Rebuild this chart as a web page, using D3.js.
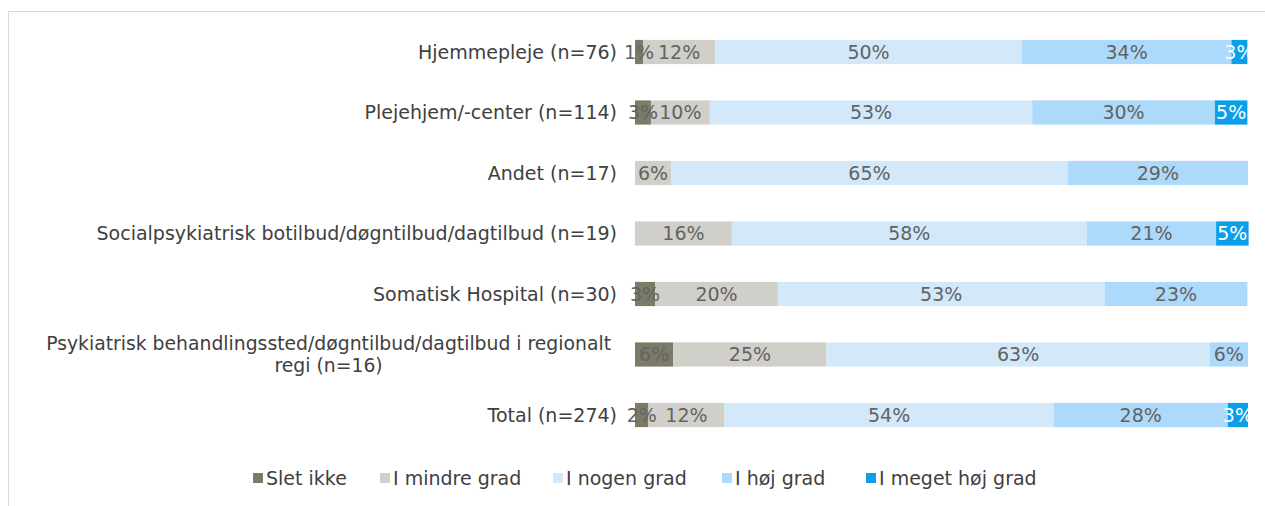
<!DOCTYPE html>
<html>
<head>
<meta charset="utf-8">
<script src="https://cdn.jsdelivr.net/npm/d3@7"></script>
<style>
    body { margin: 0; background: #fff; }
    svg { display: block; font-family: "DejaVu Sans", Verdana, sans-serif; }
</style>
</head>
<body>
<div id="chart"></div>
<script>
const categories = [
    "Hjemmepleje (n=76)",
    "Plejehjem/-center (n=114)",
    "Andet (n=17)",
    "Socialpsykiatrisk botilbud/døgntilbud/dagtilbud (n=19)",
    "Somatisk Hospital (n=30)",
    "Psykiatrisk behandlingssted/døgntilbud/dagtilbud i regionalt\nregi (n=16)",
    "Total (n=274)"
];
const seriesNames = ["Slet ikke", "I mindre grad", "I nogen grad", "I høj grad", "I meget høj grad"];
const sletIkke = [1.3, 2.6, 0, 0, 3.3, 6.25, 2.2];
const mindreGrad = [11.8, 9.6, 5.9, 15.8, 20.0, 25.0, 12.4];
const nogenGrad = [50.0, 52.6, 64.7, 57.9, 53.3, 62.5, 53.7];
const hoejGrad = [34.2, 29.8, 29.4, 21.1, 23.3, 6.25, 28.4];
const megetHoejGrad = [2.6, 5.3, 0, 5.3, 0, 0, 3.3];
const colors = ["#7b7b67", "#d1cfc9", "#d3e8f8", "#add9fb", "#0b9fea"];
const labelColors = ["#636363", "#636363", "#636363", "#636363", "#ffffff"];

const seriesValues = [sletIkke, mindreGrad, nogenGrad, hoejGrad, megetHoejGrad];
const rows = categories.map((c, i) => {
    const row = { category: c };
    seriesNames.forEach((s, j) => { row[s] = seriesValues[j][i]; });
    return row;
});

const width = 1265, height = 506;
const svg = d3.select("#chart").append("svg")
    .attr("width", width)
    .attr("height", height);

// chart frame (runs off right and bottom edge in the original)
svg.append("rect")
    .attr("x", 8.5).attr("y", 11.5)
    .attr("width", 1300).attr("height", 600)
    .attr("fill", "none")
    .attr("stroke", "#d9d9d9");

const x = d3.scaleLinear().domain([0, 100]).range([635, 1248]);
const y = d3.scaleBand()
    .domain(categories)
    .range([21.75, 445.25])
    .paddingInner(0.6)
    .paddingOuter(0.3);

const stacked = d3.stack().keys(seriesNames)(rows);

svg.selectAll("g.series")
    .data(stacked)
    .enter().append("g")
    .attr("class", "series")
    .attr("fill", (d, i) => colors[i])
    .selectAll("rect")
    .data(d => d)
    .enter().append("rect")
    .attr("x", d => x(d[0]))
    .attr("y", d => y(d.data.category))
    .attr("width", d => x(d[1]) - x(d[0]))
    .attr("height", y.bandwidth());

// value labels drawn after all bars so they sit on top
const labels = svg.append("g");
stacked.forEach((s, i) => {
    labels.selectAll(null)
        .data(s.filter(d => d[1] - d[0] > 0))
        .enter().append("text")
        .attr("x", d => (x(d[0]) + x(d[1])) / 2)
        .attr("y", d => y(d.data.category) + y.bandwidth() / 2)
        .attr("dy", "0.36em")
        .attr("text-anchor", "middle")
        .style("font-size", "19px")
        .style("fill", labelColors[i])
        .text(d => Math.round(d[1] - d[0]) + "%");
});

// category labels, multi line ones centred on their longest line
const labelRight = 617;
categories.forEach(c => {
    const lines = c.split("\n");
    const cy = y(c) + y.bandwidth() / 2;
    const t = svg.append("text")
        .style("font-size", "19px")
        .style("fill", "#404040");
    if (lines.length === 1) {
        t.attr("x", labelRight).attr("y", cy).attr("dy", "0.36em")
            .attr("text-anchor", "end").text(c);
    } else {
        t.attr("text-anchor", "middle")
            .style("font-size", "18.8px");
        const spans = lines.map((l, k) => t.append("tspan")
            .attr("y", cy + (k - (lines.length - 1) / 2) * 22)
            .attr("dy", "0.36em")
            .text(l));
        const maxW = d3.max(spans, s => s.node().getComputedTextLength());
        spans.forEach(s => s.attr("x", labelRight - 6 - maxW / 2));
    }
});

// legend
const legendX = [253, 380, 553, 722, 866];
const legend = svg.selectAll("g.legend")
    .data(seriesNames)
    .enter().append("g")
    .attr("class", "legend")
    .attr("transform", (d, i) => `translate(${legendX[i]},478)`);

legend.append("rect")
    .attr("x", 0).attr("y", -5)
    .attr("width", 10).attr("height", 10)
    .attr("fill", (d, i) => colors[i]);

legend.append("text")
    .attr("x", 13)
    .attr("dy", "0.36em")
    .style("font-size", "19px")
    .style("fill", "#404040")
    .text(d => d);
</script>
</body>
</html>
